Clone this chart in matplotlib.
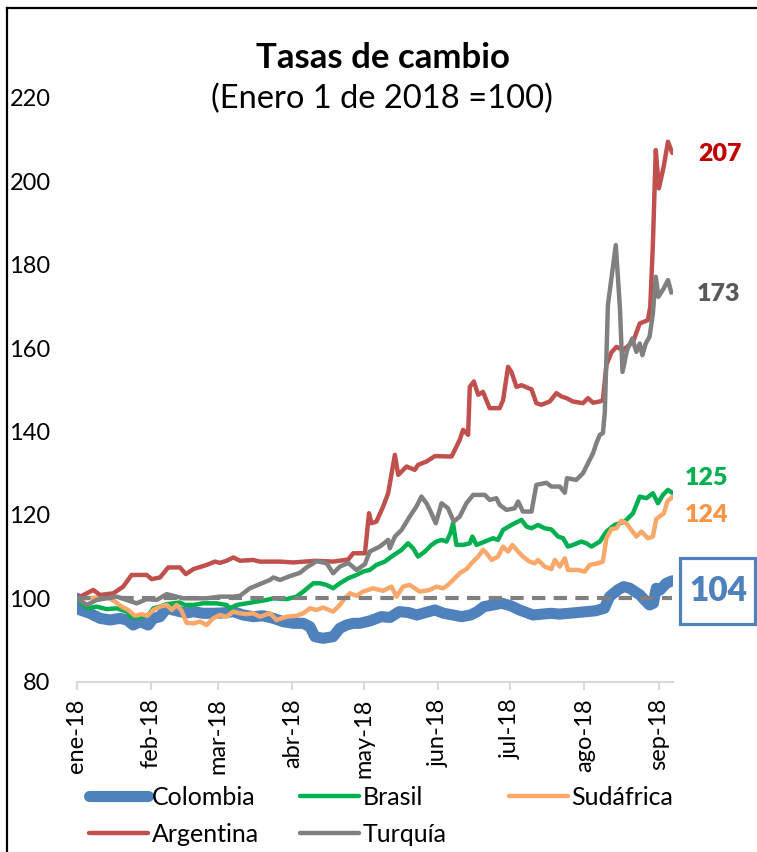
import numpy as np
import pandas as pd
import matplotlib
matplotlib.use("Agg")
import matplotlib.pyplot as plt
from matplotlib.lines import Line2D
from matplotlib.patches import Rectangle

plt.rcParams['font.family'] = ['Lato', 'DejaVu Sans']

# ---------------- data (days since 2018-01-01, index Jan 1 2018 = 100) ----------------
argentina_days = [0, 6.8, 9.6, 15.2, 19.3, 22.8, 29.1, 31.2, 34.7, 38.1, 43, 45.5, 48.6, 54.2, 57.6,
                  59.7, 62.5, 65.3, 68.1, 73.6, 76.4, 84.8, 90.3, 100, 107, 113.3, 115.4, 120.3, 122,
                  123, 125.1, 127.9, 130, 132.8, 134.2, 137.7, 141.1, 142.5, 146, 149.5, 156.5, 159.9,
                  161.3, 163.4, 164.1, 165.8, 167.6, 169.6, 172.4, 176.6, 178, 180.1, 181.5, 183.6,
                  185.7, 189.9, 191.9, 194, 197.5, 200.3, 202.4, 204.5, 207.2, 211.4, 213.5, 215.6,
                  218.4, 219.7, 221.2, 223.3, 225.4, 228.1, 230.2, 232.3, 235.1, 238.5, 239.5, 240.6,
                  241.8, 243.1, 245.1, 246.9, 248.7]
argentina_vals = [100, 102, 100.8, 101.2, 102.8, 105.6, 105.6, 104.6, 105, 107.4, 107.4, 105.8, 107, 108,
                  108.8, 108.5, 109, 109.8, 109, 109.2, 108.8, 108.8, 108.6, 109, 108.8, 109.3, 110.8,
                  110.8, 120.4, 118, 118.4, 122, 125.2, 134.4, 129.6, 131.6, 130.8, 132, 132.8, 134.1,
                  134, 138, 140.4, 139.2, 150.7, 152, 148.8, 149.5, 145.6, 145.6, 147.5, 155.5, 154.3,
                  150.7, 151.1, 150.1, 146.8, 146.4, 147.2, 149.2, 148.4, 148, 147.2, 146.8, 148, 146.9,
                  147.2, 147.5, 156, 159, 160.3, 159.5, 160.5, 161.5, 165.9, 166.7, 169.9, 185,
                  207.5, 198.3, 203.5, 209.5, 206.8]

turquia_days = [0, 4.1, 8.2, 12.4, 16.6, 20.8, 24.9, 29.1, 33.3, 37.5, 40.2, 44.4, 48.6, 54.2, 59.7,
                65.3, 68.1, 72.2, 76.4, 80.6, 82, 84.8, 88.9, 93.1, 95.9, 100.1, 104.3, 107, 109.8,
                113.3, 116.8, 120.3, 122.3, 126.5, 130, 130.7, 132.8, 135.6, 139, 141.8, 143.9, 146,
                147.4, 149.9, 152.3, 155, 157.4, 159.9, 162.7, 165.5, 170.4, 172.4, 175.2, 176.6,
                179.4, 182.9, 184.3, 186.3, 189.9, 191.9, 196.1, 198.2, 201.7, 203.8, 204.7, 208.6,
                211.4, 213.5, 215.6, 217, 218.4, 219.7, 220.5, 221.8, 225.1, 226.8, 227.9, 229.8,
                232, 233.7, 235.1, 236.2, 237.6, 239.2, 240.6, 241.8, 242.9, 245.1, 246.9, 248.3]
turquia_vals = [100, 98.4, 99.6, 100, 100.4, 99.6, 98.8, 99.8, 99.6, 101, 100.6, 100, 100, 100, 100.4,
                100.4, 100.6, 102.4, 103.4, 104.4, 105, 104.4, 105.3, 106.1, 107.4, 108.9, 108.4, 106,
                107.6, 108.5, 106.8, 108.2, 111.2, 112.4, 114, 112, 114.8, 116.4, 119.6, 122, 124.4,
                122.8, 121.2, 118, 122.8, 121.6, 118.4, 119.6, 122.8, 124.8, 124.8, 123.6, 124, 122.4,
                121.2, 121.6, 123.2, 120.8, 120.8, 127.2, 127.7, 126.8, 126.8, 125.3, 128.8, 128.4,
                130, 132.4, 134.8, 137.2, 139.2, 139.6, 144.4, 170.3, 184.7, 169.9, 154.3, 159.5,
                162.3, 159.1, 161.1, 158.3, 161.1, 162.7, 168.3, 177.1, 172.3, 174.3, 176.3, 173.3]

brasil_days = [0, 4.1, 8.2, 12.4, 16.6, 20.8, 22.8, 26.3, 29.8, 31.9, 34.7, 37.5, 40.2, 43, 45.1,
               48.6, 52.7, 58.3, 62.5, 63.9, 66.7, 70.9, 75, 79.2, 82, 87.6, 91.7, 94.5, 98.7, 101.5,
               104.3, 107, 109.8, 113.3, 116.8, 119.5, 122.3, 125.1, 128.6, 131.4, 133.5, 135.6,
               138.3, 140.4, 142.5, 145.3, 148.1, 150.2, 152.3, 154.4, 156, 157.1, 158.5, 161.3,
               164.1, 165.2, 166.9, 170.4, 173.8, 175.9, 178, 181.5, 184.3, 185.7, 187.8, 189.9,
               192.6, 195.4, 198.2, 201, 203.1, 205.1, 207.2, 210.7, 212.8, 214.9, 218.4, 221.2,
               224.6, 228.8, 232.3, 235.1, 237.9, 240.6, 242.7, 244.8, 246.9, 248.7]
brasil_vals = [100, 97.6, 98, 97.4, 97.6, 96.8, 95.4, 95.4, 96, 97.6, 98, 98.6, 98.8, 99, 98.4,
               98.4, 98.8, 98.8, 98.4, 97.6, 98.4, 98.8, 99.2, 99.6, 100, 99.8, 100.4, 101.6, 103.6,
               103.6, 103.2, 102.4, 103.6, 104.8, 105.6, 106.4, 106.8, 108, 108.8, 110, 110.8, 111.6,
               113.2, 112, 110, 111.2, 112.8, 113.6, 114, 113.6, 115.6, 118, 112.8, 112.8,
               113.2, 114.8, 112.8, 113.6, 114.4, 114, 116.4, 117.6, 118.4, 118.8, 117.2, 116.8,
               117.6, 116.8, 116.5, 114.8, 114.4, 112.4, 112.8, 113.6, 113.2, 112.4, 113.6, 116,
               117.6, 118.4, 120.4, 124.4, 124, 125.2, 122.8, 124.8, 126, 125.3]

sudafrica_days = [0, 4.1, 8.2, 12.4, 15.9, 18.7, 21.4, 24.2, 27, 29.4, 31.9, 34.7, 37.5, 39.6, 41.6,
                  43.7, 45.8, 48.6, 51.4, 54.2, 56.9, 59.7, 62.5, 65.3, 68.1, 70.9, 73.6, 76.4, 80.6,
                  83.4, 87.6, 91.7, 94.5, 97.3, 100.1, 102.8, 107, 109.8, 111.9, 114, 116.8, 119.5,
                  123.7, 127.9, 131.4, 133.5, 136.2, 139, 143.2, 147.4, 150.2, 152.9, 155, 157.1,
                  159.9, 162.7, 164.8, 167.6, 169.6, 171.1, 173.2, 175.9, 178, 180.1, 181.9, 184.3,
                  186.3, 189.1, 191.2, 192.6, 195.4, 198.2, 199.6, 201.7, 203.8, 205.1, 209.3, 212.1,
                  214.2, 217.7, 219.7, 221.2, 223.3, 225.4, 227.4, 229.5, 231.6, 233.7, 235.8, 238.5,
                  240.6, 242, 245.2, 246.6, 248.7]
sudafrica_vals = [100, 100, 100.2, 100.4, 99.2, 98, 97.2, 95.8, 96.2, 95.8, 97.2, 98, 98.4, 97.2, 98.4,
                  97, 94.1, 94, 94.4, 93.6, 95.2, 96, 95.6, 96.8, 96.4, 96.2, 96.4, 95.6, 96.4,
                  94.8, 95.6, 95.8, 96.4, 97.6, 97.2, 97.8, 96.8, 98.4, 100, 101.2, 100.6, 101.6,
                  102.4, 101.8, 102.8, 100.4, 102.8, 103.2, 101.6, 102, 102.8, 102.4, 103.2, 104.4,
                  106, 107, 108.4, 110, 111.6, 110.8, 109.2, 110, 112.4, 111.2, 112.8, 111.2,
                  110, 108.8, 108.4, 109.2, 107.6, 107, 109.2, 107.6, 109.6, 106.8, 106.8, 106.4,
                  108, 108.4, 108.8, 114.4, 116.6, 116.8, 118.6, 118, 116.4, 114.8, 116, 114.4,
                  114.8, 119, 120.4, 123.2, 124.3]

colombia_days = [0, 1.3, 5.4, 9.6, 13.8, 18, 20.8, 23.5, 26.3, 29.8, 31.9, 34.7, 37.5, 40.2, 43,
                 45.8, 48.6, 52.7, 56.9, 61.1, 65.3, 69.4, 73.6, 77.8, 82, 86.1, 90.3, 94.5, 97.3,
                 99.4, 102.8, 107, 109.8, 112.6, 115.4, 118.2, 122.5, 127.1, 130.8, 134.6, 138.3,
                 142, 145.7, 149.5, 153.2, 157, 160.7, 164.4, 167.2, 170, 173.8, 177.5, 181.2, 184.9,
                 187.7, 190.5, 194.2, 198, 201.7, 205.4, 209.2, 212.9, 216.6, 220.3, 222.5, 225.9,
                 228.4, 231, 235.2, 237.1, 239.2, 240.8, 242, 243.6, 246.2, 248.7]
colombia_vals = [100, 97.2, 96.4, 95.2, 94.8, 95.2, 94.8, 93.6, 94.4, 93.6, 95.2, 95.6, 97.6, 97.2, 96.8,
                 96.5, 96.8, 96.4, 96.4, 96.5, 96.8, 96, 95.6, 95.8, 95.2, 94.4, 94, 94, 93.2,
                 90.8, 90.4, 90.8, 92.8, 93.6, 94, 94, 94.6, 95.6, 95.4, 96.8, 96.6,
                 96, 96.6, 97.2, 96.4, 96, 95.6, 96, 96.8, 98, 98.4, 98.8, 98.2, 97.2,
                 96.6, 96, 96.2, 96.4, 96.2, 96.4, 96.6, 96.8, 97, 97.6, 100.4, 102,
                 102.8, 102.4, 100.8, 99.6, 98.4, 98.8, 102.4, 102, 103.6, 104.2]

series_names = ['Colombia', 'Brasil', 'Sudáfrica', 'Argentina', 'Turquía']
series_days = [colombia_days, brasil_days, sudafrica_days, argentina_days, turquia_days]
series_vals = [colombia_vals, brasil_vals, sudafrica_vals, argentina_vals, turquia_vals]
series_colors = ['#4F81BD', '#00B050', '#F9A86A', '#C0504D', '#808080']
series_widths = [8.0, 3.2, 3.2, 3.2, 3.2]

end_labels = ['104', '125', '124', '207', '173']
end_label_colors = ['#4F81BD', '#00B050', '#F79646', '#C00000', '#595959']
end_label_offsets = [(12, -7), (9, 11), (9, -13), (19, -1), (18, -1)]  # points

month_labels = ['ene-18', 'feb-18', 'mar-18', 'abr-18', 'may-18', 'jun-18', 'jul-18', 'ago-18', 'sep-18']
y_ticks = [80, 100, 120, 140, 160, 180, 200, 220]
base_value = 100

title = 'Tasas de cambio'
subtitle = '(Enero 1 de 2018 =100)'

# ---------------- figure ----------------
W, H = 757, 852
fig = plt.figure(figsize=(W / 100, H / 100), dpi=100)
fig.patch.set_facecolor('white')

ax_left, ax_right, ax_top, ax_bottom = 77, 673, 97.9, 681.7
ax = fig.add_axes([ax_left / W, 1 - ax_bottom / H, (ax_right - ax_left) / W, (ax_bottom - ax_top) / H])

start = pd.Timestamp('2018-01-01')


def to_dates(days):
    return start + pd.to_timedelta(np.asarray(days, dtype=float), unit='D')


handles = {}
for name, d, v, c, lw in zip(series_names, series_days, series_vals, series_colors, series_widths):
    ln, = ax.plot(to_dates(d), v, color=c, lw=lw, solid_capstyle='round', solid_joinstyle='round',
                  zorder=2, label=name)
    handles[name] = ln

# base line at 100
last_day = max(max(d) for d in series_days)
ax.plot(to_dates([0, last_day]), [base_value, base_value], color='#808080', lw=3.0,
        dashes=(3.2, 2.0), zorder=3)

ax.set_xlim(to_dates([0])[0], to_dates([249])[0])
ax.set_ylim(y_ticks[0], y_ticks[-1])

month_starts = pd.date_range('2018-01-01', periods=len(month_labels), freq='MS')
ax.set_xticks(month_starts)
ax.set_xticklabels(month_labels, rotation=90, fontsize=17, color='black')
ax.set_yticks(y_ticks)
ax.set_yticklabels([str(t) for t in y_ticks], fontsize=17, color='black')

for s in ['left', 'right', 'top']:
    ax.spines[s].set_visible(False)
ax.spines['bottom'].set_color('#D9D9D9')
ax.spines['bottom'].set_linewidth(1.5)
ax.tick_params(axis='x', direction='out', length=6, width=1.5, color='#D9D9D9', pad=6)
ax.tick_params(axis='y', length=0, pad=19)

# end labels
end_texts = {}
for name, d, v, lab, col, off in zip(series_names, series_days, series_vals, end_labels,
                                     end_label_colors, end_label_offsets):
    fs = 24 if name == 'Colombia' else 18
    t = ax.annotate(lab, xy=(to_dates([d[-1]])[0], v[-1]), xytext=off, textcoords='offset points',
                    ha='left', va='center', fontsize=fs, fontweight='heavy', color=col,
                    annotation_clip=False)
    end_texts[name] = t

# titles
fig.text(383 / W, 1 - 68 / H, title, ha='center', va='baseline', fontsize=25, fontweight='bold')
fig.text(382 / W, 1 - 98.5 / H, subtitle, ha='center', va='center', fontsize=23.5)

# legend: three columns placed like the original
legend_cols = [['Colombia', 'Argentina'], ['Brasil', 'Turquía'], ['Sudáfrica']]
legend_x = [89, 300, 509]
for names, lx in zip(legend_cols, legend_x):
    lg = fig.legend([handles[n] for n in names], names, loc='upper left',
                    bbox_to_anchor=(lx / W, 1 - 786 / H), ncol=1, frameon=False, fontsize=18,
                    handlelength=2.35, handletextpad=0.15, labelspacing=0.55,
                    borderpad=0, borderaxespad=0)

# box round the Colombia label (taller than the text, like the original)
fig.canvas.draw()
bb = end_texts['Colombia'].get_window_extent()
cy = (bb.y0 + bb.y1) / 2
box = Rectangle(((bb.x0 - 9) / W, (cy - 33) / H), (bb.width + 17) / W, 66 / H,
                transform=fig.transFigure, fill=False, ec='#4F81BD', lw=2.3)
fig.add_artist(box)

# figure border (left and top)
fig.add_artist(Line2D([7 / W, 7 / W], [0, 1 - 8 / H], transform=fig.transFigure, color='black', lw=1.6))
fig.add_artist(Line2D([7 / W, 1], [1 - 8 / H, 1 - 8 / H], transform=fig.transFigure, color='black', lw=1.6))

fig.savefig('out.png', dpi=100)
